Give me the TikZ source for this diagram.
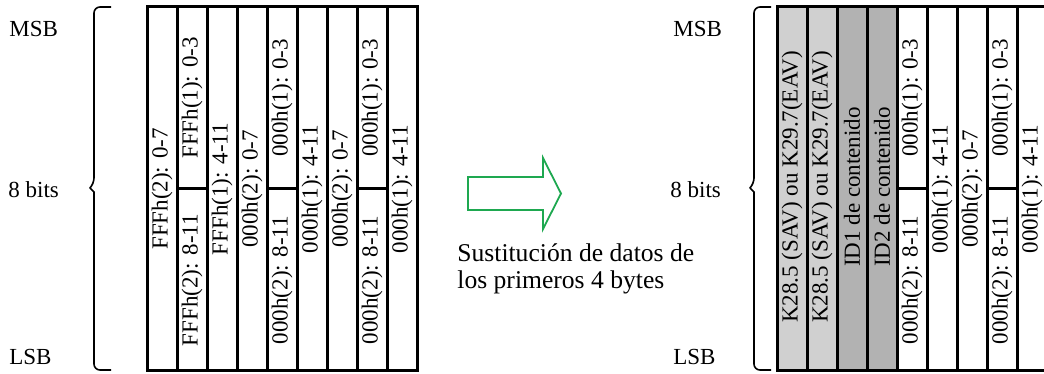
\documentclass[tikz,border=0pt]{standalone}
\usepackage{fontspec}
\setmainfont{Liberation Serif}
\usepackage{tikz}
\definecolor{keygray}{RGB}{208,208,208}
\definecolor{idgray}{RGB}{178,178,178}
\definecolor{arrowgreen}{RGB}{30,168,80}
\tikzset{
  cell/.style={draw=black,line width=1.5pt},
  vtext/.style={rotate=90,inner sep=0pt},
  sidelabel/.style={anchor=west,inner sep=0pt},
  bitbrace/.style={line width=0.8pt,rounded corners=3pt}
}

\begin{document}
\begin{tikzpicture}[x=0.5pt,y=0.5pt,font=\fontsize{11.5}{13.5}\selectfont]
  \useasboundingbox (0,0) rectangle (1044,374);
  % labels and brace, left word
  \node[sidelabel] (msbL) at (9,345) {MSB};
  \node[sidelabel] (bitsL) at (8,184) {8 bits};
  \node[sidelabel] (lsbL) at (9,17) {LSB};
  \draw[bitbrace] (111,367) -| (94,190) [sharp corners] -- (90,186) -- (94,182) [rounded corners=3pt] |- (111,4);
  % left word, original data
  \draw[cell](147,3)rectangle(177,367); \node[vtext] (l1) at (162,185) {FFFh(2): 0-7};
  \draw[cell](177,3)rectangle(207,367); \draw[cell](177,185)--(207,185);
  \node[vtext] (l2t) at (192,276) {FFFh(1): 0-3};
  \node[vtext] (l2b) at (192,94) {FFFh(2): 8-11};
  \draw[cell](207,3)rectangle(237,367); \node[vtext] (l3) at (222,185) {FFFh(1): 4-11};
  \draw[cell](237,3)rectangle(267,367); \node[vtext] (l4) at (252,185) {000h(2): 0-7};
  \draw[cell](267,3)rectangle(297,367); \draw[cell](267,185)--(297,185);
  \node[vtext] (l5t) at (282,276) {000h(1): 0-3};
  \node[vtext] (l5b) at (282,94) {000h(2): 8-11};
  \draw[cell](297,3)rectangle(327,367); \node[vtext] (l6) at (312,185) {000h(1): 4-11};
  \draw[cell](327,3)rectangle(357,367); \node[vtext] (l7) at (342,185) {000h(2): 0-7};
  \draw[cell](357,3)rectangle(387,367); \draw[cell](357,185)--(387,185);
  \node[vtext] (l8t) at (372,276) {000h(1): 0-3};
  \node[vtext] (l8b) at (372,94) {000h(2): 8-11};
  \draw[cell](387,3)rectangle(417,367); \node[vtext] (l9) at (402,185) {000h(1): 4-11};
  % arrow and note
  \draw[arrowgreen,line width=0.9pt](468,197)--(543,197)--(543,216)--(561,180.5)--(543,145)--(543,164)--(468,164)--cycle;
  \node[anchor=west,align=left,inner sep=0pt,font=\fontsize{12.8}{13.5}\selectfont] (note) at (457,105) {Sustitución de datos de\\los primeros 4 bytes};
  % labels and brace, right word
  \node[sidelabel] (msbR) at (673,345) {MSB};
  \node[sidelabel] (bitsR) at (670,184) {8 bits};
  \node[sidelabel] (lsbR) at (673,17) {LSB};
  \draw[bitbrace] (771,367) -| (754,190) [sharp corners] -- (750,186) -- (754,182) [rounded corners=3pt] |- (771,4);
  % right word, replaced data
  \draw[cell,fill=keygray](777,3)rectangle(807,367); \node[vtext] (r1) at (792,187) {K28.5 (SAV) ou K29.7(EAV)};
  \draw[cell,fill=keygray](807,3)rectangle(837,367); \node[vtext] (r2) at (822,187) {K28.5 (SAV) ou K29.7(EAV)};
  \draw[cell,fill=idgray](837,3)rectangle(867,367); \node[vtext] (r3) at (852,187) {ID1 de contenido};
  \draw[cell,fill=idgray](867,3)rectangle(897,367); \node[vtext] (r4) at (882,187) {ID2 de contenido};
  \draw[cell](897,3)rectangle(927,367); \draw[cell](897,185)--(927,185);
  \node[vtext] (r5t) at (912,276) {000h(1): 0-3};
  \node[vtext] (r5b) at (912,94) {000h(2): 8-11};
  \draw[cell](927,3)rectangle(957,367); \node[vtext] (r6) at (942,185) {000h(1): 4-11};
  \draw[cell](957,3)rectangle(987,367); \node[vtext] (r7) at (972,185) {000h(2): 0-7};
  \draw[cell](987,3)rectangle(1017,367); \draw[cell](987,185)--(1017,185);
  \node[vtext] (r8t) at (1002,276) {000h(1): 0-3};
  \node[vtext] (r8b) at (1002,94) {000h(2): 8-11};
  \draw[cell](1044,367)--(1017,367)--(1017,3)--(1044,3); \node[vtext] (r9) at (1032,185) {000h(1): 4-11};
\end{tikzpicture}
\end{document}
